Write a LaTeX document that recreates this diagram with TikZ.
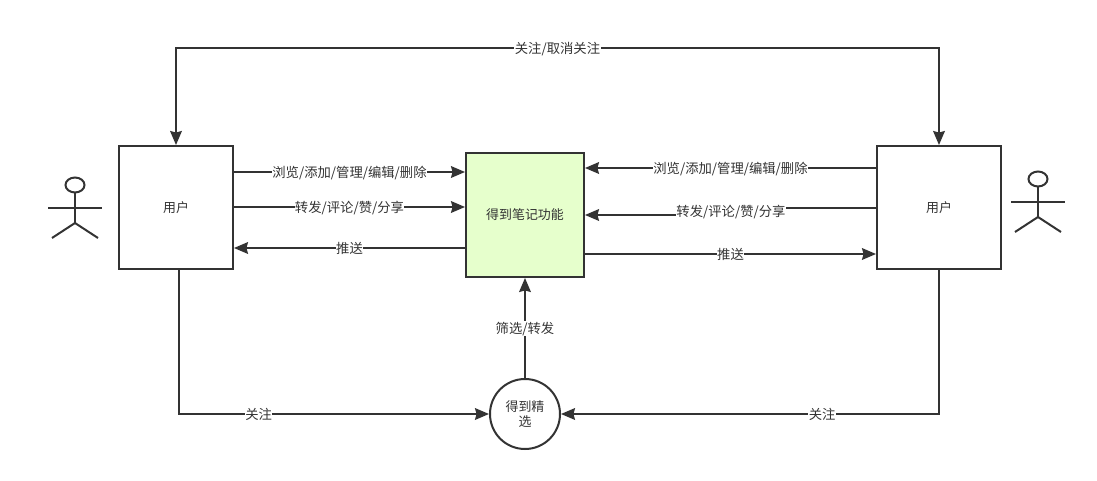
\documentclass[tikz,border=0pt]{standalone}
\usepackage{fontspec}
\setmainfont{Noto Sans CJK SC}
\usetikzlibrary{arrows.meta}
\definecolor{inkgray}{HTML}{333333}
\definecolor{featuregreen}{HTML}{E6FFCC}
\tikzset{
	boxline/.style={draw=inkgray, line width=1.5pt, inner sep=0pt, align=center},
	flowtip/.tip={Stealth[length=10.5pt, width=8.8pt, inset=1.2pt]},
	flow/.style={draw=inkgray, line width=1.5pt, -flowtip},
	flowlabel/.style={fill=white, inner sep=0.3pt, text=inkgray, yshift=-0.5pt, font=\fontsize{10}{12}\selectfont}
}
\def\stickman(#1,#2){
	\draw[inkgray, line width=1.5pt] (#1, #2-23) ellipse (9.5*0.75pt and 7.5*0.75pt);
	\draw[inkgray, line width=1.5pt] (#1, #2-15.5) -- (#1, #2+15);
	\draw[inkgray, line width=1.5pt] (#1-27, #2) -- (#1+27, #2);
	\draw[inkgray, line width=1.5pt] (#1-23, #2+30) -- (#1, #2+15) -- (#1+23, #2+30);
}
\begin{document}
\begin{tikzpicture}[x=0.75pt, y=-0.75pt, font=\fontsize{9.7}{11.25}\selectfont, text=inkgray]
	\useasboundingbox (0, 0) rectangle (1097, 481);

	%%%%% boxes %%%%%
	\node[boxline, minimum width=85.5pt, minimum height=92.25pt] (userL) at (176, 207.5) {用户};
	\node[boxline, minimum width=93pt, minimum height=92.25pt] (userR) at (939, 207.5) {用户};
	\node[boxline, fill=featuregreen, minimum width=88.5pt, minimum height=93pt] (feature) at (525, 215) {得到笔记功能};
	\node[boxline, circle, minimum size=52.5pt] (digest) at (525, 414) {得到精\\选};

	\stickman(75, 208)
	\stickman(1038, 202)

	\coordinate (topL) at (176, 48);
	\coordinate (topR) at (939, 48);
	\coordinate (bendL) at (179, 414);
	\coordinate (bendR) at (939, 414);
	\coordinate (stepA) at (731, 208);
	\coordinate (stepB) at (731, 215);

	%%%%% top %%%%%
	\draw[flow, flowtip-flowtip] (userL.north) -- (topL) -- node[flowlabel] (lblFollowTop) {关注/取消关注} (topR) -- (userR.north);

	%%%%% left user %%%%%
	\draw[flow] (userL.east |- 0, 172) -- node[flowlabel] (lblBrowseL) {浏览/添加/管理/编辑/删除} (feature.west |- 0, 172);
	\draw[flow] (userL.east |- 0, 207) -- node[flowlabel] (lblShareL) {转发/评论/赞/分享} (feature.west |- 0, 207);
	\draw[flow] (feature.west |- 0, 248) -- node[flowlabel] (lblPushL) {推送} (userL.east |- 0, 248);

	%%%%% right user %%%%%
	\draw[flow] (userR.west |- 0, 168) -- node[flowlabel] (lblBrowseR) {浏览/添加/管理/编辑/删除} (feature.east |- 0, 168);
	\draw[flow] (userR.west |- stepA) -- (stepA) -- node[flowlabel] (lblShareR) {转发/评论/赞/分享} (stepB) -- (feature.east |- stepB);
	\draw[flow] (feature.east |- 0, 254) -- node[flowlabel] (lblPushR) {推送} (userR.west |- 0, 254);

	%%%%% digest %%%%%
	\draw[flow] (digest.north) -- node[flowlabel] (lblPick) {筛选/转发} (feature.south);
	\draw[flow] (userL.south -| bendL) -- (bendL) -- node[flowlabel, pos=0.257] (lblFollowL) {关注} (digest.west);
	\draw[flow] (userR.south) -- (bendR) -- node[flowlabel, pos=0.309] (lblFollowR) {关注} (digest.east);
\end{tikzpicture}
\end{document}
